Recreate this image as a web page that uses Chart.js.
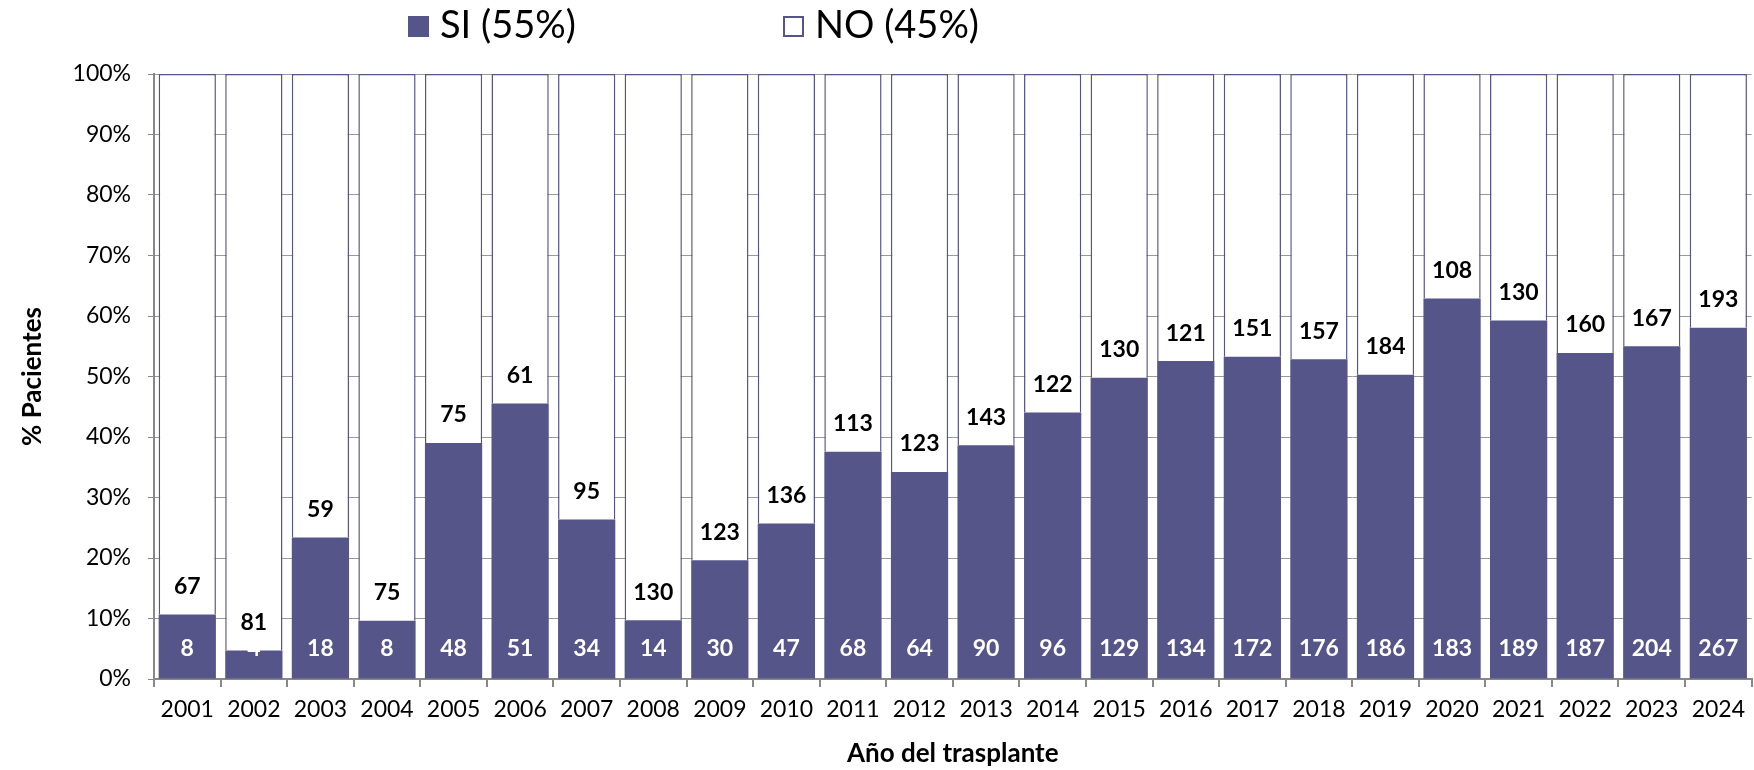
<!DOCTYPE html>
<html>
<head>
<meta charset="utf-8">
<script src="https://cdn.jsdelivr.net/npm/chart.js@4"></script>
<style>
  body { margin: 0; background: #fff; }
  #wrap { position: relative; width: 1754px; height: 770px; }
  .leg { position: absolute; top: 0px; font-family: Lato, sans-serif; font-size: 38px; color: #000; line-height: 46px; white-space: nowrap; }
  .box { display: inline-block; width: 21px; height: 21px; vertical-align: 1px; margin-right: 11px; box-sizing: border-box; }
</style>
</head>
<body>
<div id="wrap">
  <canvas id="chart" width="1754" height="770"></canvas>
  <div class="leg" style="left:408px"><span class="box" style="background:#55558A"></span>SI (55%)</div>
  <div class="leg" style="left:783px"><span class="box" style="background:#fff;border:2px solid #55558A"></span>NO (45%)</div>
</div>
<script>
const years = ["2001","2002","2003","2004","2005","2006","2007","2008","2009","2010","2011","2012",
  "2013","2014","2015","2016","2017","2018","2019","2020","2021","2022","2023","2024"];
const si = [8,4,18,8,48,51,34,14,30,47,68,64,90,96,129,134,172,176,186,183,189,187,204,267];
const no = [67,81,59,75,75,61,95,130,123,136,113,123,143,122,130,121,151,157,184,108,130,160,167,193];
const yTicks = [0,10,20,30,40,50,60,70,80,90,100];

const purple = "#55558A";
let pctSi = [], pctNo = [];
for (let i = 0; i < years.length; i++) {
  let tot = si[i] + no[i];
  pctSi.push(si[i] / tot * 100);
  pctNo.push(no[i] / tot * 100);
}

// draws the counts on the bars
const countLabels = {
  id: "countLabels",
  afterDatasetsDraw(chart) {
    const ctx = chart.ctx;
    const bars = chart.getDatasetMeta(0).data;
    ctx.save();
    ctx.font = "bold 23px Lato";
    ctx.textAlign = "center";
    ctx.textBaseline = "middle";
    bars.forEach((bar, i) => {
      ctx.fillStyle = "#fff";
      ctx.fillText(si[i], bar.x, bar.base - 30);
      ctx.fillStyle = "#000";
      ctx.fillText(no[i], bar.x, bar.y - 28);
    });
    ctx.restore();
  }
};

const chart = new Chart(document.getElementById("chart"), {
  type: "bar",
  data: {
    labels: years,
    datasets: [
      { label: "SI", data: pctSi, backgroundColor: purple, borderWidth: 0,
        barPercentage: 0.86, categoryPercentage: 1 },
      { label: "NO", data: pctNo, backgroundColor: "#fff", borderColor: purple, borderWidth: 1.5,
        barPercentage: 0.86, categoryPercentage: 1 }
    ]
  },
  options: {
    responsive: false,
    animation: false,
    layout: { padding: { top: 74, right: 0, left: 0, bottom: 0 } },
    plugins: { legend: { display: false }, tooltip: { enabled: false } },
    scales: {
      x: {
        stacked: true,
        grid: { offset: true, drawOnChartArea: false, tickLength: 8, tickColor: "#888", lineWidth: 2 },
        border: { color: "#888", width: 2 },
        ticks: { color: "#000", font: { family: "Lato", size: 23 }, padding: 9, maxRotation: 0 },
        title: { display: true, text: "Año del trasplante", color: "#000",
          font: { family: "Lato", size: 26, weight: "bold" }, padding: { top: 0, bottom: 1 } },
        afterFit(scale) { scale.height = 91; }
      },
      y: {
        stacked: true,
        min: 0, max: 100,
        afterBuildTicks(scale) { scale.ticks = yTicks.map(v => ({ value: v })); },
        grid: { color: "#999", borderDash: [2, 3], tickBorderDash: [], tickColor: "#888", tickLength: 6 },
        border: { color: "#888", width: 2 },
        ticks: { color: "#000", font: { family: "Lato", size: 23 }, padding: 17,
          callback: v => v + "%" },
        title: { display: true, text: "% Pacientes", color: "#000",
          font: { family: "Lato", size: 26, weight: "bold" }, padding: { top: 17, bottom: 0 } },
        afterFit(scale) { scale.width = 154; }
      }
    }
  },
  plugins: [countLabels]
});
</script>
</body>
</html>
